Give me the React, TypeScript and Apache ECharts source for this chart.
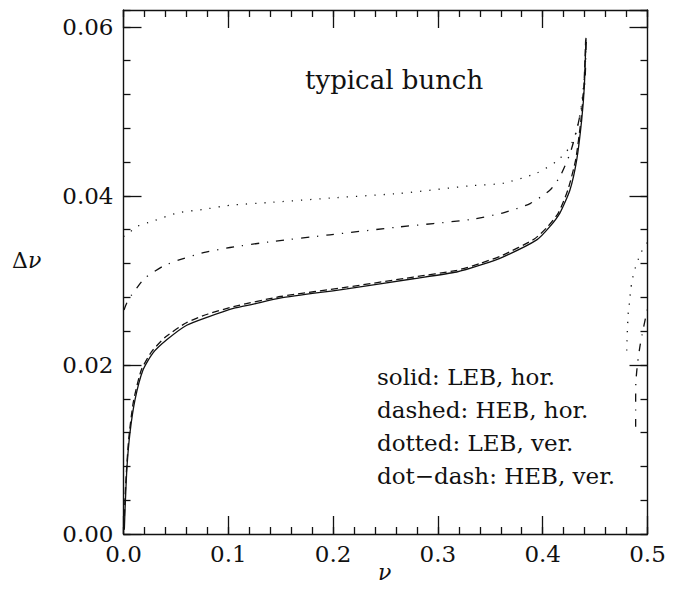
import React, { useEffect, useRef } from "react";
import * as echarts from "echarts";

const solidLEBhor: [number, number][] = [
  [0.0008, 0.0005], [0.0015, 0.003], [0.0033, 0.0079], [0.0062, 0.012], [0.011, 0.0159],
  [0.0186, 0.0194], [0.028, 0.0214], [0.0415, 0.023], [0.0603, 0.0247], [0.081, 0.0257],
  [0.1048, 0.0267], [0.1239, 0.0272], [0.1493, 0.0279], [0.213, 0.029], [0.2765, 0.0302],
  [0.318, 0.031], [0.3402, 0.0318], [0.3624, 0.0328], [0.3943, 0.0348], [0.407, 0.0364],
  [0.4165, 0.038], [0.426, 0.0407], [0.4325, 0.0443], [0.4372, 0.049], [0.4397, 0.0529],
  [0.4413, 0.0587],
];

const dashedHEBhor: [number, number][] = [
  [0.0006, 0.0008], [0.0012, 0.0035], [0.0025, 0.0068], [0.005, 0.0113], [0.0095, 0.0157],
  [0.017, 0.0194], [0.027, 0.0216], [0.04, 0.0233], [0.06, 0.025], [0.08, 0.026],
  [0.105, 0.0269], [0.15, 0.0281], [0.213, 0.0292], [0.2765, 0.0304], [0.318, 0.0312],
  [0.34, 0.032], [0.362, 0.033], [0.392, 0.0349], [0.405, 0.0364], [0.415, 0.038],
  [0.424, 0.0407], [0.4315, 0.0443], [0.4365, 0.049], [0.4393, 0.053], [0.441, 0.0585],
];

const dottedLEBver: [number, number][] = [
  [0.0, 0.0352], [0.0055, 0.0356], [0.011, 0.0363], [0.0275, 0.037], [0.052, 0.038],
  [0.076, 0.0384], [0.1016, 0.0389], [0.1366, 0.0392], [0.2034, 0.0398], [0.2638, 0.0403],
  [0.3306, 0.0412], [0.3624, 0.0415], [0.3943, 0.0427], [0.4134, 0.0441], [0.426, 0.0458],
  [0.4325, 0.0478], [0.4372, 0.051], [0.4404, 0.0549], [0.4415, 0.0585],
];

const dotdashHEBver: [number, number][] = [
  [0.0005, 0.0265], [0.003, 0.0273], [0.0078, 0.0283], [0.0126, 0.0291], [0.0205, 0.0303],
  [0.038, 0.0317], [0.0523, 0.0324], [0.0762, 0.0333], [0.1016, 0.0339], [0.1414, 0.0346],
  [0.197, 0.0354], [0.2607, 0.0363], [0.3306, 0.0372], [0.3624, 0.038], [0.388, 0.0391],
  [0.407, 0.0407], [0.4165, 0.0423], [0.426, 0.045], [0.4325, 0.0478], [0.4372, 0.0506],
  [0.4404, 0.0537], [0.4415, 0.0585],
];

const dottedLEBverRight: [number, number][] = [
  [0.4802, 0.0217], [0.4804, 0.0228], [0.4807, 0.0238], [0.4811, 0.0249], [0.4814, 0.0259],
  [0.4824, 0.0269], [0.4833, 0.0281], [0.4843, 0.0292], [0.4859, 0.0303], [0.4881, 0.0314],
  [0.4906, 0.0323], [0.4938, 0.0333], [0.4983, 0.0342], [0.5, 0.0345],
];

const dotdashHEBverRight: [number, number][] = [
  [0.4887, 0.0127], [0.4887, 0.0155], [0.4889, 0.018], [0.4906, 0.0203], [0.4929, 0.0223],
  [0.4955, 0.024], [0.498, 0.0255], [0.5, 0.0266],
];

const xTickValues = [0.0, 0.1, 0.2, 0.3, 0.4, 0.5];
const yTickValues = [0.0, 0.02, 0.04, 0.06];
const legendLines = [
  "solid: LEB, hor.",
  "dashed: HEB, hor.",
  "dotted: LEB, ver.",
  "dot\u2212dash: HEB, ver.",
];
const titleText = "typical bunch";

const FONT = "DejaVu Serif";
const INK = "#111";

export default function App() {
  const ref = useRef<HTMLDivElement>(null);

  useEffect(() => {
    if (!ref.current) return;
    const chart = echarts.init(ref.current, undefined, { renderer: "svg" });

    const lineW = 1.3;
    const axisLineOn = { show: true, onZero: false, lineStyle: { color: INK, width: 1.4 } };
    const axisLineOff = { show: false, onZero: false };
    const baseAxis = (extra: any) => ({
      type: "value",
      splitLine: { show: false },
      axisLine: axisLineOff,
      axisLabel: { show: false },
      ...extra,
    });
    const tick = (len: number) => ({
      show: true,
      inside: true,
      length: len,
      lineStyle: { color: INK, width: 1.3 },
    });

    const xMin = xTickValues[0];
    const xMax = xTickValues[xTickValues.length - 1];
    const yMin = yTickValues[0];
    const yMax = 0.062;

    const xAxes = [
      baseAxis({
        position: "bottom", min: xMin, max: xMax, interval: 0.1,
        axisLine: axisLineOn,
        axisTick: tick(18),
        axisLabel: {
          show: true, formatter: (v: number) => v.toFixed(1),
          fontFamily: FONT, fontSize: 23, color: INK, margin: 8,
        },
      }),
      baseAxis({ position: "bottom", min: xMin, max: xMax, interval: 0.02, axisTick: tick(7) }),
      baseAxis({
        position: "top", min: xMin, max: xMax, interval: 0.1,
        axisLine: axisLineOn,
        axisTick: tick(18),
      }),
      baseAxis({ position: "top", min: xMin, max: xMax, interval: 0.02, axisTick: tick(7) }),
    ];

    const yAxes = [
      baseAxis({
        position: "left", min: yMin, max: yMax, interval: 0.02,
        axisLine: axisLineOn,
        axisTick: tick(18),
        axisLabel: {
          show: true, showMaxLabel: false, formatter: (v: number) => v.toFixed(2),
          fontFamily: FONT, fontSize: 23, color: INK, margin: 10,
        },
      }),
      baseAxis({ position: "left", min: yMin, max: yMax, interval: 0.004, axisTick: tick(7) }),
      baseAxis({
        position: "right", min: yMin, max: yMax, interval: 0.02,
        axisLine: axisLineOn,
        axisTick: tick(18),
      }),
      baseAxis({ position: "right", min: yMin, max: yMax, interval: 0.004, axisTick: tick(7) }),
    ];

    const mk = (name: string, data: [number, number][], type: any) => ({
      name,
      type: "line",
      data,
      xAxisIndex: 0,
      yAxisIndex: 0,
      showSymbol: false,
      smooth: 0.2,
      silent: true,
      lineStyle: { color: INK, width: lineW, type, cap: "butt" },
    });

    chart.setOption({
      animation: false,
      backgroundColor: "#fff",
      grid: { left: 123.5, right: 30.5, top: 10, bottom: 59, containLabel: false },
      xAxis: xAxes,
      yAxis: yAxes,
      series: [
        mk("solid", solidLEBhor, "solid"),
        mk("dashed", dashedHEBhor, [7, 4]),
        mk("dotted", dottedLEBver, [1.2, 8]),
        mk("dotdash", dotdashHEBver, [8, 8, 1.2, 8]),
        mk("dottedR", dottedLEBverRight, [1.2, 8]),
        mk("dotdashR", dotdashHEBverRight, [8, 8, 1.2, 8]),
      ],
      graphic: [
        {
          type: "text", left: 305, top: 67,
          style: { text: titleText, fontFamily: FONT, fontSize: 26, fill: INK },
        },
        ...legendLines.map((t, i) => ({
          type: "text", left: 377, top: 365 + i * 33.3,
          style: { text: t, fontFamily: FONT, fontSize: 23, fill: INK },
        })),
        {
          type: "text", left: 12, top: 249,
          style: {
            text: "{a|\u0394}{b|\u03bd}",
            rich: {
              a: { fontFamily: FONT, fontSize: 22, fill: INK },
              b: { fontFamily: FONT, fontSize: 22, fontStyle: "italic", fill: INK },
            },
          },
        },
        {
          type: "text", left: 378, top: 561,
          style: { text: "\u03bd", fontFamily: FONT, fontSize: 22, fontStyle: "italic", fill: INK },
        },
      ],
    });

    return () => chart.dispose();
  }, []);

  return (
    <div
      ref={ref}
      style={{ position: "fixed", left: 0, top: 0, width: 678, height: 593, background: "#fff" }}
    />
  );
}
